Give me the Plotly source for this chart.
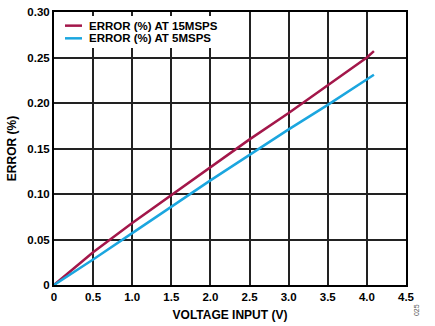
import plotly.graph_objects as go

voltage_15 = [0, 0.25, 0.5, 1.0, 1.5, 2.0, 2.5, 3.0, 3.5, 4.0, 4.09]
error_15 = [0, 0.018, 0.036, 0.068, 0.099, 0.130, 0.160, 0.189, 0.219, 0.250, 0.257]
voltage_5 = [0, 0.25, 0.5, 1.0, 1.5, 2.0, 2.5, 3.0, 3.5, 4.0, 4.09]
error_5 = [0, 0.014, 0.028, 0.057, 0.086, 0.115, 0.143, 0.171, 0.198, 0.226, 0.231]

series_names = ["ERROR (%) AT 15MSPS", "ERROR (%) AT 5MSPS"]
series_colors = ["#a3174a", "#1ba6df"]

x_ticks = [0, 0.5, 1.0, 1.5, 2.0, 2.5, 3.0, 3.5, 4.0, 4.5]
x_labels = ["0", "0.5", "1.0", "1.5", "2.0", "2.5", "3.0", "3.5", "4.0", "4.5"]
y_ticks = [0, 0.05, 0.10, 0.15, 0.20, 0.25, 0.30]
y_labels = ["0", "0.05", "0.10", "0.15", "0.20", "0.25", "0.30"]

FONT = "Liberation Sans, Arial, sans-serif"
W, H = 435, 326
ML, MR, MT, MB = 54, 29, 6, 40
PW, PH = W - ML - MR, H - MT - MB


def px(xp):
    return (xp - ML) / PW


def py(yp):
    return (H - MB - yp) / PH


fig = go.Figure()
for xs, ys, name, col in [(voltage_15, error_15, series_names[0], series_colors[0]),
                          (voltage_5, error_5, series_names[1], series_colors[1])]:
    fig.add_trace(go.Scatter(x=xs, y=ys, mode="lines", name=name,
                             line=dict(color=col, width=2.5), showlegend=False))

fig.update_layout(
    width=W, height=H,
    margin=dict(l=ML, r=MR, t=MT, b=MB),
    paper_bgcolor="white", plot_bgcolor="white",
    font=dict(family=FONT, size=11.5, color="black", weight="bold"),
    showlegend=False,
)
fig.update_xaxes(range=[0, 4.5], tickvals=x_ticks, ticktext=x_labels,
                 showgrid=True, gridcolor="#222", gridwidth=1.5,
                 showline=True, linecolor="black", linewidth=2, mirror=True,
                 zeroline=False, ticks="", ticklen=0,
                 title=dict(text="VOLTAGE INPUT (V)", standoff=9,
                            font=dict(family=FONT, size=12, weight="bold")))
fig.update_yaxes(range=[0, 0.30], tickvals=y_ticks, ticktext=y_labels,
                 showgrid=True, gridcolor="#222", gridwidth=1.5,
                 showline=True, linecolor="black", linewidth=2, mirror=True,
                 zeroline=False, ticks="", ticklen=0,
                 title=dict(text="ERROR (%)", standoff=8,
                            font=dict(family=FONT, size=12, weight="bold")))

# legend box (manual, compact like the reference)
fig.add_shape(type="rect", xref="paper", yref="paper",
              x0=px(57), x1=px(224), y0=py(43), y1=py(10),
              fillcolor="white", line=dict(width=0), layer="above")
for i, (name, col) in enumerate(zip(series_names, series_colors)):
    yy = 20 + i * 13
    fig.add_shape(type="line", xref="paper", yref="paper",
                  x0=px(65), x1=px(82), y0=py(yy), y1=py(yy),
                  line=dict(color=col, width=2.5), layer="above")
    fig.add_annotation(text=name, xref="paper", yref="paper",
                       x=px(87), y=py(yy), xanchor="left", yanchor="middle",
                       showarrow=False,
                       font=dict(family=FONT, size=11.5, color="black", weight="bold"))

fig.add_annotation(text="025", xref="paper", yref="paper", x=1.045, y=-0.12,
                   showarrow=False, textangle=-90,
                   font=dict(family=FONT, size=7, color="#555", weight="normal"))

fig.write_html("out.html")
